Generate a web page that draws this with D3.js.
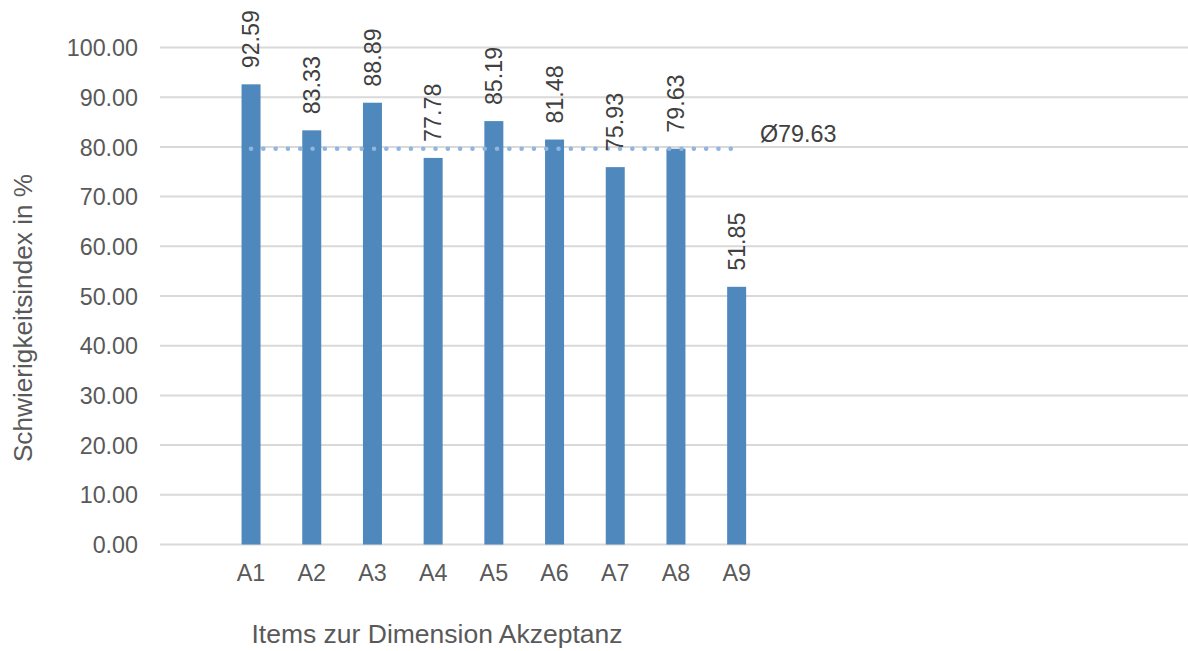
<!DOCTYPE html>
<html>
<head>
<meta charset="utf-8">
<script src="https://cdn.jsdelivr.net/npm/d3@7"></script>
<style>
  html, body { margin: 0; padding: 0; background: #fff; }
  svg { display: block; font-family: "Liberation Sans", Arial, sans-serif; }
</style>
</head>
<body>
<svg id="chart" width="1188" height="651"></svg>
<script>
// Schwierigkeitsindex je Item der Dimension Akzeptanz
const categories = ["A1", "A2", "A3", "A4", "A5", "A6", "A7", "A8", "A9"];
const values = [92.59, 83.33, 88.89, 77.78, 85.19, 81.48, 75.93, 79.63, 51.85];
const average = 79.63;
const yTicks = [0, 10, 20, 30, 40, 50, 60, 70, 80, 90, 100];
const xTitle = "Items zur Dimension Akzeptanz";
const yTitle = "Schwierigkeitsindex in %";

const svg = d3.select("#chart");
const plotLeft = 160, plotRight = 1188;
const step = 60.7;

const y = d3.scaleLinear().domain([0, 100]).range([544.5, 47.5]);
const x = d3.scaleBand()
  .domain(categories)
  .range([plotLeft + step, plotLeft + step * (categories.length + 1)])
  .paddingInner(0.687)
  .paddingOuter(0.3435);

const textColor = "#595959";
const fontSize = 23.3;

// value axis labels
const yAxis = d3.axisLeft(y).tickValues(yTicks).tickSize(0).tickPadding(0)
  .tickFormat(d3.format(".2f"));
const gy = svg.append("g").attr("transform", `translate(${plotLeft},0)`).call(yAxis);
gy.select(".domain").remove();
gy.selectAll(".tick line").remove();
gy.selectAll(".tick text")
  .attr("x", -22)
  .attr("dy", "0.35em")
  .attr("fill", textColor)
  .style("font-size", fontSize + "px");

// horizontal gridlines
svg.append("g").selectAll("line").data(yTicks).join("line")
  .attr("x1", plotLeft).attr("x2", plotRight)
  .attr("y1", d => y(d)).attr("y2", d => y(d))
  .attr("stroke", "#d9d9d9").attr("stroke-width", 2);

// bars
svg.append("g").selectAll("rect").data(values).join("rect")
  .attr("x", (d, i) => x(categories[i]))
  .attr("width", x.bandwidth())
  .attr("y", d => y(d))
  .attr("height", d => y(0) - y(d))
  .attr("fill", "#4f88bc");

// average line (dotted)
const first = x(categories[0]) + x.bandwidth() / 2;
const last = x(categories[categories.length - 1]) + x.bandwidth() / 2;
svg.append("line")
  .attr("x1", first).attr("x2", last)
  .attr("y1", y(average)).attr("y2", y(average))
  .attr("stroke", "#8fb5e0")
  .attr("stroke-width", 4.6)
  .attr("stroke-linecap", "round")
  .attr("stroke-dasharray", "0 12.3");

svg.append("text")
  .attr("x", 760).attr("y", y(average) - 7)
  .attr("fill", "#404040")
  .style("font-size", fontSize + "px")
  .text("Ø" + average.toFixed(2));

// value labels, rotated
svg.append("g").selectAll("text").data(values).join("text")
  .attr("transform", (d, i) =>
    `translate(${x(categories[i]) + x.bandwidth() / 2},${y(d) - 16}) rotate(-90)`)
  .attr("dy", "0.35em")
  .attr("fill", "#404040")
  .style("font-size", fontSize + "px")
  .text(d => d.toFixed(2));

// category axis
const xAxis = d3.axisBottom(x).tickSize(0).tickPadding(0);
const gx = svg.append("g").attr("transform", `translate(0,${y(0)})`).call(xAxis);
gx.select(".domain").remove();
gx.selectAll(".tick text")
  .attr("y", 20)
  .attr("dy", "0.71em")
  .attr("fill", textColor)
  .style("font-size", fontSize + "px");

// axis titles
svg.append("text")
  .attr("x", 437).attr("y", 643)
  .attr("text-anchor", "middle")
  .attr("fill", textColor)
  .style("font-size", "26.5px")
  .text(xTitle);

svg.append("text")
  .attr("transform", "translate(32,318) rotate(-90)")
  .attr("text-anchor", "middle")
  .attr("fill", textColor)
  .style("font-size", "26.2px")
  .text(yTitle);
</script>
</body>
</html>
